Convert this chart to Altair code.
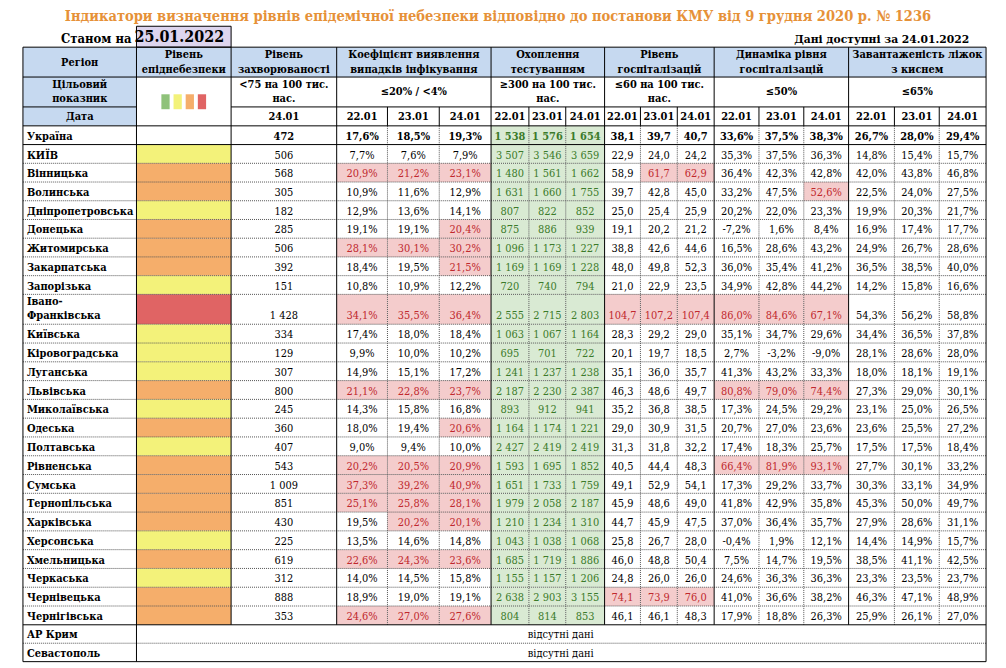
import altair as alt
import pandas as pd

# ---------------- data ----------------
title = "Індикатори визначення рівнів епідемічної небезпеки відповідно до постанови КМУ від 9 грудня 2020 р. № 1236"
as_of_label = "Станом на"
as_of_date = "25.01.2022"
available_label = "Дані доступні за 24.01.2022"
dates = ["22.01", "23.01", "24.01"]
incidence_date = "24.01"

regions = ["Україна", "КИЇВ", "Вінницька", "Волинська", "Дніпропетровська", "Донецька",
           "Житомирська", "Закарпатська", "Запорізька", "Івано-\nФранківська", "Київська",
           "Кіровоградська", "Луганська", "Львівська", "Миколаївська", "Одеська", "Полтавська",
           "Рівненська", "Сумська", "Тернопільська", "Харківська", "Херсонська", "Хмельницька",
           "Черкаська", "Чернівецька", "Чернігівська"]
level = ["", "yellow", "orange", "orange", "yellow", "orange", "orange", "orange", "yellow", "red",
         "yellow", "yellow", "yellow", "orange", "yellow", "orange", "yellow", "orange", "orange",
         "orange", "orange", "yellow", "orange", "yellow", "orange", "orange"]
incidence = [472, 506, 568, 305, 182, 285, 506, 392, 151, 1428, 334, 129, 307, 800, 245, 360, 407,
             543, 1009, 851, 430, 225, 619, 312, 888, 353]
detect_d1 = [17.6, 7.7, 20.9, 10.9, 12.9, 19.1, 28.1, 18.4, 10.8, 34.1, 17.4, 9.9, 14.9, 21.1, 14.3,
             18.0, 9.0, 20.2, 37.3, 25.1, 19.5, 13.5, 22.6, 14.0, 18.9, 24.6]
detect_d2 = [18.5, 7.6, 21.2, 11.6, 13.6, 19.1, 30.1, 19.5, 10.9, 35.5, 18.0, 10.0, 15.1, 22.8, 15.8,
             19.4, 9.4, 20.5, 39.2, 25.8, 20.2, 14.6, 24.3, 14.5, 19.0, 27.0]
detect_d3 = [19.3, 7.9, 23.1, 12.9, 14.1, 20.4, 30.2, 21.5, 12.2, 36.4, 18.4, 10.2, 17.2, 23.7, 16.8,
             20.6, 10.0, 20.9, 40.9, 28.1, 20.1, 14.8, 23.6, 15.8, 19.1, 27.6]
tests_d1 = [1538, 3507, 1480, 1631, 807, 875, 1096, 1169, 720, 2555, 1063, 695, 1241, 2187, 893, 1164,
            2427, 1593, 1651, 1979, 1210, 1043, 1685, 1155, 2638, 804]
tests_d2 = [1576, 3546, 1561, 1660, 822, 886, 1173, 1169, 740, 2715, 1067, 701, 1237, 2230, 912, 1174,
            2419, 1695, 1733, 2058, 1234, 1038, 1719, 1157, 2903, 814]
tests_d3 = [1654, 3659, 1662, 1755, 852, 939, 1227, 1228, 794, 2803, 1164, 722, 1238, 2387, 941, 1221,
            2419, 1852, 1759, 2187, 1310, 1068, 1886, 1206, 3155, 853]
hosp_d1 = [38.1, 22.9, 58.9, 39.7, 25.0, 19.1, 38.8, 48.0, 21.0, 104.7, 28.3, 20.1, 35.1, 46.3, 35.2,
           29.0, 31.3, 40.5, 49.1, 45.9, 44.7, 25.8, 46.0, 24.8, 74.1, 46.1]
hosp_d2 = [39.7, 24.0, 61.7, 42.8, 25.4, 20.2, 42.6, 49.8, 22.9, 107.2, 29.2, 19.7, 36.0, 48.6, 36.8,
           30.9, 31.8, 44.4, 52.9, 48.6, 45.9, 26.7, 48.8, 26.0, 73.9, 46.1]
hosp_d3 = [40.7, 24.2, 62.9, 45.0, 25.9, 21.2, 44.6, 52.3, 23.5, 107.4, 29.0, 18.5, 35.7, 49.7, 38.5,
           31.5, 32.2, 48.3, 54.1, 49.0, 47.5, 28.0, 50.4, 26.0, 76.0, 48.3]
dyn_d1 = [33.6, 35.3, 36.4, 33.2, 20.2, -7.2, 16.5, 36.0, 34.9, 86.0, 35.1, 2.7, 41.3, 80.8, 17.3,
          20.7, 17.4, 66.4, 17.3, 41.8, 37.0, -0.4, 7.5, 24.6, 41.0, 17.9]
dyn_d2 = [37.5, 37.5, 42.3, 47.5, 22.0, 1.6, 28.6, 35.4, 42.8, 84.6, 34.7, -3.2, 43.2, 79.0, 24.5,
          27.0, 18.3, 81.9, 29.2, 42.9, 36.4, 1.9, 14.7, 36.3, 36.6, 18.8]
dyn_d3 = [38.3, 36.3, 42.8, 52.6, 23.3, 8.4, 43.2, 41.2, 44.2, 67.1, 29.6, -9.0, 33.3, 74.4, 29.2,
          23.6, 25.7, 93.1, 33.7, 35.8, 35.7, 12.1, 19.5, 36.3, 38.2, 26.3]
beds_d1 = [26.7, 14.8, 42.0, 22.5, 19.9, 16.9, 24.9, 36.5, 14.2, 54.3, 34.4, 28.1, 18.0, 27.3, 23.1,
           23.6, 17.5, 27.7, 30.3, 45.3, 27.9, 14.4, 38.5, 23.3, 46.3, 25.9]
beds_d2 = [28.0, 15.4, 43.8, 24.0, 20.3, 17.4, 26.7, 38.5, 15.8, 56.2, 36.5, 28.6, 18.1, 29.0, 25.0,
           25.5, 17.5, 30.1, 33.1, 50.0, 28.6, 14.9, 41.1, 23.5, 47.1, 26.1]
beds_d3 = [29.4, 15.7, 46.8, 27.5, 21.7, 17.7, 28.6, 40.0, 16.6, 58.8, 37.8, 28.0, 19.1, 30.1, 26.5,
           27.2, 18.4, 33.2, 34.9, 49.7, 31.1, 15.7, 42.5, 23.7, 48.9, 27.0]
missing_regions = ["АР Крим", "Севастополь"]
missing_text = "відсутні дані"

# thresholds of the indicators (cells beyond them are highlighted)
detect_limit = 20.0
hosp_limit = 60.0
dyn_limit = 50.0

head_row1 = [["Регіон"], ["Рівень", "епіднебезпеки"], ["Рівень", "захворюваності"],
             ["Коефіцієнт виявлення", "випадків інфікування"], ["Охоплення", "тестуванням"],
             ["Рівень", "госпіталізацій"], ["Динаміка рівня", "госпіталізацій"],
             ["Завантаженість ліжок", "з киснем"]]
head_row2 = [["Цільовий", "показник"], [], ["<75 на 100 тис.", "нас."], ["≤20% / <4%"],
             ["≥300 на 100 тис.", "нас."], ["≤60 на 100 тис.", "нас."], ["≤50%"], ["≤65%"]]
date_label = "Дата"

# ---------------- style / layout ----------------
FONT = "DejaVu Serif Condensed, DejaVu Serif"
BLUE = "#c6d9f0"
LAV = "#ddd5ee"
PINK = "#f4cccc"
GREEN = "#d9ead3"
RED_TXT = "#c0282d"
GREEN_TXT = "#3b7a2a"
LEVEL_COL = {"yellow": "#f3f27a", "orange": "#f5ae6b", "red": "#e06464", "green": "#8fc27a"}
LEGEND = ["green", "yellow", "orange", "red"]

X_EDGES = [23, 137, 232, 338, 389, 441, 493, 531, 568, 607, 643, 680, 717, 762, 807, 852, 898, 943, 990]
GROUP_EDGES = [23, 137, 232, 338, 493, 607, 717, 852, 990]
GROUP_SPANS = [(23, 137), (137, 232), (232, 338), (338, 493), (493, 607), (607, 717), (717, 852), (852, 990)]
H_TOP, H1, H2, H3 = 46, 76, 106, 125
ROW_H = [18.8] * 9 + [30] + [18.86] * 16
MISS_H = [18.5, 18.5]

edges = [H3]
for h in ROW_H:
    edges.append(edges[-1] + h)
miss_edges = [edges[-1]]
for h in MISS_H:
    miss_edges.append(miss_edges[-1] + h)
TABLE_BOTTOM = miss_edges[-1]


def fmt_pct(v):
    return f"{v:.1f}".replace(".", ",") + "%"


def fmt_dec(v):
    return f"{v:.1f}".replace(".", ",")


def fmt_int(v):
    return f"{v:,}".replace(",", " ")


rects, solid, dotted = [], [], []
txt_norm, txt_bold, txt_head, txt_names = [], [], [], []

rects.append(dict(x=23, x2=990, y=H_TOP, y2=H1, fill=BLUE))
rects.append(dict(x=23, x2=137, y=H1, y2=H3, fill=BLUE))
for k, name in enumerate(LEGEND):
    lx = 162 + k * 12.2
    rects.append(dict(x=lx, x2=lx + 8.3, y=93.3, y2=108.3, fill=LEVEL_COL[name]))

cols = []
cols.append((incidence, fmt_int, "plain"))
for arr in (detect_d1, detect_d2, detect_d3):
    cols.append((arr, fmt_pct, "detect"))
for arr in (tests_d1, tests_d2, tests_d3):
    cols.append((arr, fmt_int, "tests"))
for arr in (hosp_d1, hosp_d2, hosp_d3):
    cols.append((arr, fmt_dec, "hosp"))
for arr in (dyn_d1, dyn_d2, dyn_d3):
    cols.append((arr, fmt_pct, "dyn"))
for arr in (beds_d1, beds_d2, beds_d3):
    cols.append((arr, fmt_pct, "plain"))

for i, reg in enumerate(regions):
    top, bot = edges[i], edges[i + 1]
    ty = bot - 7.8
    if level[i]:
        rects.append(dict(x=137, x2=232, y=top, y2=bot, fill=LEVEL_COL[level[i]]))
    lines = reg.split("\n")
    for j, ln in enumerate(lines):
        txt_names.append(dict(x=27, y=ty - (len(lines) - 1 - j) * 15, t=ln, c="#000"))
    for c, (arr, f, kind) in enumerate(cols):
        x0, x1 = X_EDGES[2 + c], X_EDGES[3 + c]
        v = arr[i]
        color = "#000"
        fill = None
        if kind == "tests":
            fill, color = GREEN, GREEN_TXT
        elif kind == "detect" and v > detect_limit:
            fill, color = PINK, RED_TXT
        elif kind == "hosp" and v > hosp_limit:
            fill, color = PINK, RED_TXT
        elif kind == "dyn" and v > dyn_limit:
            fill, color = PINK, RED_TXT
        if fill:
            rects.append(dict(x=x0, x2=x1, y=top, y2=bot, fill=fill))
        rec = dict(x=(x0 + x1) / 2, y=ty, t=f(v), c=color)
        (txt_bold if i == 0 else txt_norm).append(rec)

for i, reg in enumerate(missing_regions):
    top, bot = miss_edges[i], miss_edges[i + 1]
    txt_names.append(dict(x=27, y=bot - 7.8, t=reg, c="#000"))
    txt_norm.append(dict(x=563, y=bot - 7.8, t=missing_text, c="#000"))

for (x0, x1), lines in zip(GROUP_SPANS, head_row1):
    cx = (x0 + x1) / 2
    if len(lines) == 1:
        txt_head.append(dict(x=cx, y=61.5, t=lines[0], c="#000"))
    else:
        txt_head.append(dict(x=cx, y=54, t=lines[0], c="#000"))
        txt_head.append(dict(x=cx, y=68.5, t=lines[1], c="#000"))
for (x0, x1), lines in zip(GROUP_SPANS, head_row2):
    cx = (x0 + x1) / 2
    if len(lines) == 1:
        txt_head.append(dict(x=cx, y=91, t=lines[0], c="#000"))
    elif len(lines) == 2:
        txt_head.append(dict(x=cx, y=83.5, t=lines[0], c="#000"))
        txt_head.append(dict(x=cx, y=98.5, t=lines[1], c="#000"))
txt_head.append(dict(x=80, y=116, t=date_label, c="#000"))
txt_head.append(dict(x=285, y=116, t=incidence_date, c="#000"))
for c in range(15):
    x0, x1 = X_EDGES[3 + c], X_EDGES[4 + c]
    txt_head.append(dict(x=(x0 + x1) / 2, y=116, t=dates[c % 3], c="#000"))

for y in (H_TOP, H1, H3, edges[1], edges[-1], TABLE_BOTTOM):
    solid.append(dict(x=23, x2=990, y=y, y2=y))
solid.append(dict(x=23, x2=137, y=H2, y2=H2))
solid.append(dict(x=232, x2=990, y=H2, y2=H2))
for y in edges[2:-1]:
    dotted.append(dict(x=23, x2=990, y=y, y2=y))
dotted.append(dict(x=23, x2=990, y=miss_edges[1], y2=miss_edges[1]))
for x in (23, 137, 990):
    solid.append(dict(x=x, x2=x, y=H_TOP, y2=TABLE_BOTTOM))
for x in GROUP_EDGES[2:-1]:
    solid.append(dict(x=x, x2=x, y=H_TOP, y2=edges[-1]))
for x in X_EDGES[3:-1]:
    if x in GROUP_EDGES:
        continue
    solid.append(dict(x=x, x2=x, y=H2, y2=H3))
    dotted.append(dict(x=x, x2=x, y=H3, y2=edges[-1]))

# ---------------- chart ----------------
xs = alt.Scale(domain=[8, 1002], nice=False, zero=False)
ys = alt.Scale(domain=[8, 664], nice=False, zero=False, reverse=True)
X = alt.X("x:Q", scale=xs, axis=None)
Y = alt.Y("y:Q", scale=ys, axis=None)

rect_layer = alt.Chart(pd.DataFrame(rects)).mark_rect(strokeWidth=0).encode(
    x=X, x2="x2:Q", y=Y, y2="y2:Q", fill=alt.Fill("fill:N", scale=None))

box_layer = alt.Chart(pd.DataFrame([dict(x=137, x2=232, y=25, y2=46)])).mark_rect(
    fill=LAV, stroke="#000", strokeWidth=1).encode(x=X, x2="x2:Q", y=Y, y2="y2:Q")

dotted_layer = alt.Chart(pd.DataFrame(dotted)).mark_rule(
    color="#555", strokeWidth=1, strokeDash=[1, 1]).encode(x=X, x2="x2:Q", y=Y, y2="y2:Q")
solid_layer = alt.Chart(pd.DataFrame(solid)).mark_rule(
    color="#000", strokeWidth=1).encode(x=X, x2="x2:Q", y=Y, y2="y2:Q")


def text_layer(rows, size, weight, align="center"):
    return alt.Chart(pd.DataFrame(rows)).mark_text(
        font=FONT, fontSize=size, fontWeight=weight, align=align, baseline="middle").encode(
        x=X, y=Y, text="t:N", color=alt.Color("c:N", scale=None))


top_texts = alt.Chart(pd.DataFrame([dict(x=500, y=16.2, t=title)])).mark_text(
    font=FONT, fontSize=14.6, fontWeight="bold", align="center", baseline="middle", color="#e69138"
).encode(x=X, y=Y, text="t:N")
left_top = text_layer([dict(x=132, y=37.5, t=as_of_label, c="#000")], 13, "bold", "right")
right_top = text_layer([dict(x=973, y=38, t=available_label, c="#000")], 12, "bold", "right")
date_txt = text_layer([dict(x=180, y=35.5, t=as_of_date, c="#000")], 16, "bold")

chart = alt.layer(
    rect_layer, box_layer, dotted_layer, solid_layer,
    text_layer(txt_norm, 11, "normal"),
    text_layer(txt_bold, 11, "bold"),
    text_layer(txt_names, 11, "bold", "left"),
    text_layer(txt_head, 11, "bold"),
    top_texts, left_top, right_top, date_txt,
).properties(width=994, height=656, padding=0, autosize=alt.AutoSizeParams(type="none")
).configure_view(stroke=None)

chart.save("out.html", embed_options={"renderer": "svg", "actions": False})
